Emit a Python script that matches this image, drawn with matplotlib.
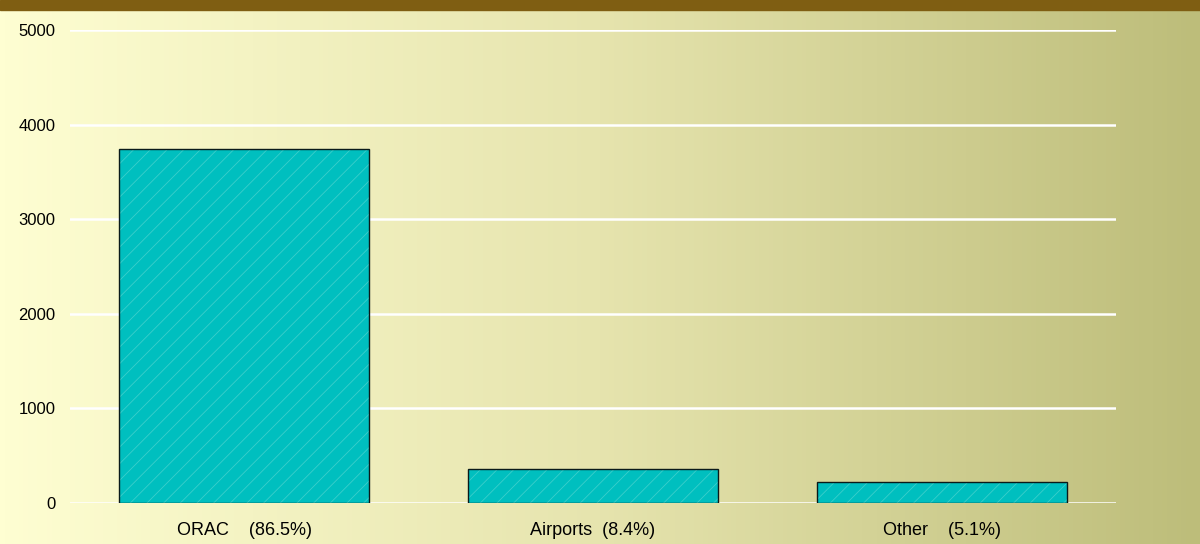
import numpy as np
import matplotlib
matplotlib.use("Agg")
import matplotlib.pyplot as plt
from matplotlib.colors import LinearSegmentedColormap

plt.rcParams["font.family"] = ["Liberation Sans", "DejaVu Sans"]

# ── Data ──────────────────────────────────────────────────────────────────────
categories = ["ORAC    (86.5%)", "Airports  (8.4%)", "Other    (5.1%)"]
values = [3740, 363, 220]
yticks = [0, 1000, 2000, 3000, 4000, 5000]

fig = plt.figure(figsize=(12, 5.44), dpi=100)

# background gradient across the whole figure
bg = fig.add_axes([0, 0, 1, 1])
grad = LinearSegmentedColormap.from_list("bg", ["#fefed2", "#e6e4ae", "#bdbd7a"])
bg.imshow(np.linspace(0, 1, 256).reshape(1, -1), cmap=grad, aspect="auto",
          extent=[0, 1, 0, 1])
bg.add_patch(plt.Rectangle((0, 1 - 10 / 544), 1, 10 / 544, color="#7f5e12"))
bg.set_xlim(0, 1); bg.set_ylim(0, 1)
bg.axis("off")

ax = fig.add_axes([70 / 1200, 1 - 503 / 544, (1116 - 70) / 1200, (503 - 30) / 544])
ax.patch.set_alpha(0)
for y in yticks:
    ax.axhline(y, color="white", lw=1.8, zorder=1)

x = np.arange(len(categories))
bars = ax.bar(x, values, width=0.717, color="#00bfbf", edgecolor="#3ccfcb",
              lw=0, hatch="//", zorder=3)
for b in bars:
    b.set_hatch_linewidth(0.6)
ax.bar(x, values, width=0.717, fill=False, edgecolor="#0a1a1a", lw=1, zorder=4)

ax.set_xlim(-0.5, 2.5)
ax.set_ylim(0, 5000)
ax.set_yticks(yticks)
ax.set_xticks(x)
ax.set_xticklabels(categories, fontsize=13)
ax.tick_params(axis="y", length=0, pad=10.5, labelsize=12)
ax.tick_params(axis="x", length=0, pad=14)
for s in ax.spines.values():
    s.set_visible(False)

plt.savefig("out.png", dpi=100)
plt.close()
